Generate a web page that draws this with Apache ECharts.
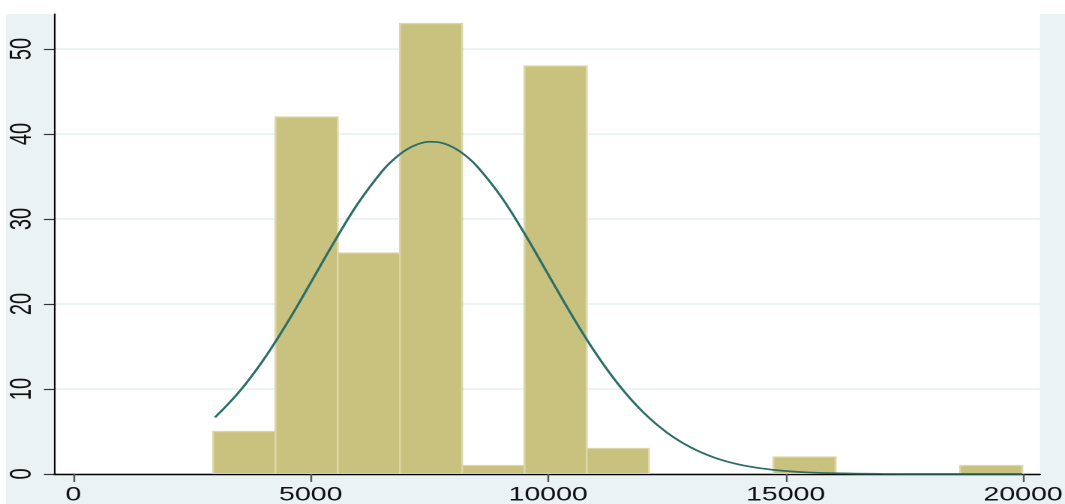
<!DOCTYPE html>
<html>
<head>
<meta charset="utf-8">
<script src="https://cdn.jsdelivr.net/npm/echarts@6/dist/echarts.min.js"></script>
<style>
  html, body { margin: 0; padding: 0; background: #ffffff; overflow: hidden; }
  #wrap { width: 1065px; height: 504px; overflow: hidden; }
  /* The reference graph is horizontally stretched; draw at 710px and stretch x by 1.5 */
  #chart { width: 710px; height: 504px; transform: scaleX(1.5); transform-origin: 0 0; }
</style>
</head>
<body>
<div id="wrap"><div id="chart"></div></div>
<script>
// ---- data ----
// histogram bin edges (value units)
const binEdges = [2947, 4258, 5568, 6879, 8189, 9500, 10810, 12121, 13431, 14742, 16052, 17363, 18673, 19984];
// frequency in each bin
const binCounts = [5, 42, 26, 53, 1, 48, 3, 0, 0, 2, 0, 0, 1];
// fitted normal density overlay
const curveX = [2984, 3500, 4000, 4500, 5000, 5500, 6000, 6500, 6750, 7000, 7250, 7500, 7750, 8000, 8250, 8500, 9000, 9500, 10000,
                10500, 11000, 11500, 12000, 12500, 13000, 13500, 14000, 14500, 15000, 15500, 16000, 17000, 18000, 19000, 19984];
const curveY = [6.66, 9.71, 13.40, 17.74, 22.51, 27.36, 31.88, 35.60, 37.03, 38.11, 38.80, 39.09, 38.97, 38.43, 37.50, 36.21, 32.70, 28.30, 23.48,
                18.67, 14.22, 10.39, 7.27, 4.88, 3.14, 1.93, 1.14, 0.65, 0.35, 0.18, 0.09, 0.02, 0.0, 0.0, 0.0];
// tick labels
const xTicks = [0, 5000, 10000, 15000, 20000];
const yTicks = [0, 10, 20, 30, 40, 50];

// ---- build ----
const barData = binCounts.map((c, i) => [binEdges[i], binEdges[i + 1], c]);
const lineData = curveX.map((x, i) => [x, curveY[i]]);

const chart = echarts.init(document.getElementById('chart'), null, { renderer: 'canvas', devicePixelRatio: 2 });
const FONT = 'Liberation Sans, Arial, sans-serif';

const option = {
  animation: false,
  backgroundColor: 'transparent',
  graphic: [{
    type: 'rect', z: -10, silent: true,
    shape: { x: 4, y: 14, width: 720, height: 500 },
    style: { fill: '#eaf2f3' }
  }],
  grid: {
    left: 36, right: 16.7, top: 14, bottom: 30,
    outerBoundsMode: 'none', containLabel: false,
    show: true, backgroundColor: '#ffffff', borderWidth: 0
  },
  xAxis: {
    type: 'value', min: -406, max: 20355,
    axisLine: { show: true, onZero: false, lineStyle: { color: '#000000', width: 1.4 } },
    axisTick: { show: true, customValues: xTicks, length: 8, lineStyle: { color: '#555555', width: 1.2 } },
    axisLabel: {
      customValues: xTicks, fontSize: 19, fontFamily: FONT, color: '#111111', margin: 12,
      formatter: function (v) { return String(v); }
    },
    splitLine: { show: false }
  },
  yAxis: {
    type: 'value', min: 0, max: 54.12, interval: 10,
    axisLine: { show: true, onZero: false, lineStyle: { color: '#000000', width: 1.1 } },
    axisTick: { show: true, customValues: yTicks, length: 6.7, lineStyle: { color: '#333333', width: 1.2 } },
    axisLabel: {
      customValues: yTicks, rotate: 90, fontSize: 20, fontFamily: FONT, color: '#111111', margin: 11,
      formatter: function (v) { return String(v); }
    },
    splitLine: { show: true, lineStyle: { color: '#e6efef', width: 1.6 } }
  },
  series: [
    {
      type: 'custom',
      data: barData,
      encode: { x: [0, 1], y: 2 },
      clip: true,
      z: 2,
      renderItem: function (params, api) {
        const v = api.value(2);
        if (!v) return null;
        const p0 = api.coord([api.value(0), 0]);
        const p1 = api.coord([api.value(1), v]);
        return {
          type: 'rect',
          shape: { x: p0[0], y: p1[1], width: p1[0] - p0[0], height: p0[1] - p1[1] },
          style: { fill: '#c9c27f', stroke: '#dcd7a8', lineWidth: 1.3 }
        };
      }
    },
    {
      type: 'line',
      data: lineData,
      smooth: 0.4,
      showSymbol: false,
      symbol: 'none',
      z: 3,
      lineStyle: { color: '#2b6e67', width: 1.7 }
    }
  ]
};
chart.setOption(option);
</script>
</body>
</html>
